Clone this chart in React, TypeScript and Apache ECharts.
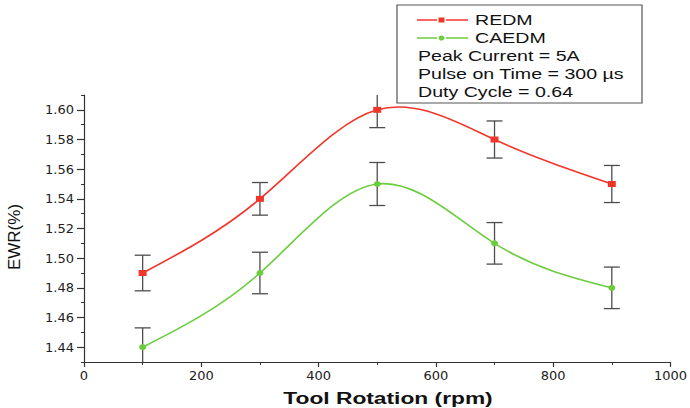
import React, { useEffect, useRef } from 'react';
import * as echarts from 'echarts';

const rotation = [100, 300, 500, 700, 900];
const redm = [1.49, 1.54, 1.6, 1.58, 1.55];
const redmErr = [0.012, 0.011, 0.012, 0.0125, 0.0125];
const caedm = [1.44, 1.49, 1.55, 1.51, 1.48];
const caedmErr = [0.013, 0.014, 0.0145, 0.014, 0.014];
const yMajorTicks = [1.44, 1.46, 1.48, 1.5, 1.52, 1.54, 1.56, 1.58, 1.6];
const yMinorTicks = [1.43, 1.45, 1.47, 1.49, 1.51, 1.53, 1.55, 1.57, 1.59, 1.61];
const xMajorTicks = [0, 200, 400, 600, 800, 1000];
const xMinorTicks = [100, 300, 500, 700, 900];
const seriesNames = ['REDM', 'CAEDM'];
const notes = ['Peak Current = 5A', 'Pulse on Time = 300 \u00b5s', 'Duty Cycle = 0.64'];
const xTitle = 'Tool Rotation (rpm)';
const yTitle = 'EWR(%)';

const FONT = 'Liberation Sans, Arial, sans-serif';
const TICKFONT = 'DejaVu Sans, sans-serif';
const RED = '#f2352b';
const GREEN = '#6acd3c';
const STRETCH = 1.4;

// natural cubic spline slopes (used only to draw the smooth curve through the data points)
function splineSlopes(xs: number[], ys: number[]) {
  const n = xs.length;
  const h = xs.slice(1).map((x, i) => x - xs[i]);
  const a = new Array(n).fill(0);
  const b = new Array(n).fill(1);
  const c = new Array(n).fill(0);
  const d = new Array(n).fill(0);
  for (let i = 1; i < n - 1; i++) {
    a[i] = h[i - 1];
    b[i] = 2 * (h[i - 1] + h[i]);
    c[i] = h[i];
    d[i] = 6 * ((ys[i + 1] - ys[i]) / h[i] - (ys[i] - ys[i - 1]) / h[i - 1]);
  }
  for (let i = 1; i < n; i++) {
    const w = a[i] / b[i - 1];
    b[i] -= w * c[i - 1];
    d[i] -= w * d[i - 1];
  }
  const M = new Array(n).fill(0);
  M[n - 1] = d[n - 1] / b[n - 1];
  for (let i = n - 2; i >= 0; i--) M[i] = (d[i] - c[i] * M[i + 1]) / b[i];
  const s: number[] = [];
  for (let i = 0; i < n - 1; i++) s.push((ys[i + 1] - ys[i]) / h[i] - (h[i] * (2 * M[i] + M[i + 1])) / 6);
  const hl = h[n - 2];
  s.push((ys[n - 1] - ys[n - 2]) / hl + (hl * (M[n - 2] + 2 * M[n - 1])) / 6);
  return s;
}

function curveRenderer(xs: number[], ys: number[], color: string) {
  const s = splineSlopes(xs, ys);
  return (params: any, api: any) => {
    const i = params.dataIndex;
    if (i >= xs.length - 1) return null;
    const h = xs[i + 1] - xs[i];
    const p0 = api.coord([xs[i], ys[i]]);
    const p1 = api.coord([xs[i + 1], ys[i + 1]]);
    const c0 = api.coord([xs[i] + h / 3, ys[i] + (s[i] * h) / 3]);
    const c1 = api.coord([xs[i + 1] - h / 3, ys[i + 1] - (s[i + 1] * h) / 3]);
    return {
      type: 'bezierCurve',
      shape: { x1: p0[0], y1: p0[1], x2: p1[0], y2: p1[1], cpx1: c0[0], cpy1: c0[1], cpx2: c1[0], cpy2: c1[1] },
      style: { stroke: color, lineWidth: 1.6, fill: 'none' },
    };
  };
}

function errData(xs: number[], ys: number[], es: number[]) {
  return xs.map((x, i) => [x, ys[i] - es[i], ys[i] + es[i]]);
}

const renderErr = (params: any, api: any) => {
  const x = api.value(0);
  const lo = api.coord([x, api.value(1)]);
  const hi = api.coord([x, api.value(2)]);
  const w = 8;
  const style = { stroke: '#4d4d4d', lineWidth: 1.3 };
  return {
    type: 'group',
    children: [
      { type: 'line', shape: { x1: lo[0], y1: lo[1], x2: hi[0], y2: hi[1] }, style },
      { type: 'line', shape: { x1: hi[0] - w, y1: hi[1], x2: hi[0] + w, y2: hi[1] }, style },
      { type: 'line', shape: { x1: lo[0] - w, y1: lo[1], x2: lo[0] + w, y2: lo[1] }, style },
    ],
  };
};

export default function App() {
  const ref = useRef<HTMLDivElement>(null);
  useEffect(() => {
    const chart = echarts.init(ref.current!, null, { renderer: 'svg' });
    const axisLine = { lineStyle: { color: '#333', width: 1.2 } };
    const legendRows = [
      { y: 20, color: RED, symbol: 'rect' },
      { y: 38, color: GREEN, symbol: 'circle' },
    ];
    const legendGraphics: any[] = [];
    legendRows.forEach((r, i) => {
      legendGraphics.push(
        { type: 'line', z: 5, shape: { x1: 417, y1: r.y, x2: 437, y2: r.y }, style: { stroke: r.color, lineWidth: 1.5 } },
        { type: 'line', z: 5, shape: { x1: 446, y1: r.y, x2: 468, y2: r.y }, style: { stroke: r.color, lineWidth: 1.5 } },
        r.symbol === 'rect'
          ? { type: 'rect', z: 5, shape: { x: 438.5, y: r.y - 2.5, width: 6, height: 5 }, style: { fill: r.color } }
          : { type: 'ellipse', z: 5, shape: { cx: 441.5, cy: r.y, rx: 3, ry: 2.6 }, style: { fill: r.color } },
        {
          type: 'text',
          z: 5,
          x: 475,
          y: r.y,
          scaleX: STRETCH,
          style: { text: seriesNames[i], fontSize: 14, fill: '#111', fontFamily: FONT, verticalAlign: 'middle' },
        }
      );
    });
    chart.setOption({
      animation: false,
      textStyle: { fontFamily: FONT },
      grid: { left: 84, right: 18, top: 95, bottom: 46 },
      xAxis: [
        {
          type: 'value',
          min: 0,
          max: 1000,
          interval: 200,
          axisLine,
          axisTick: { length: 5, lineStyle: { color: '#333', width: 1.2 }, customValues: xMajorTicks },
          axisLabel: {
            color: '#222',
            fontSize: 13,
            fontFamily: TICKFONT,
            margin: 7,
            customValues: xMajorTicks,
            formatter: (v: number) => String(v),
          },
          splitLine: { show: false },
        },
        {
          type: 'value',
          position: 'bottom',
          min: 0,
          max: 1000,
          axisLine: { show: false },
          axisTick: { length: 3, lineStyle: { color: '#333' }, customValues: xMinorTicks },
          axisLabel: { show: false },
          splitLine: { show: false },
        },
      ],
      yAxis: [
        {
          type: 'value',
          min: 1.43,
          max: 1.61,
          axisLine: { show: true, ...axisLine },
          axisTick: { show: true, length: 7, lineStyle: { color: '#333', width: 1.2 }, customValues: yMajorTicks },
          axisLabel: {
            color: '#222',
            fontSize: 13,
            fontFamily: TICKFONT,
            margin: 10,
            customValues: yMajorTicks,
            formatter: (v: number) => v.toFixed(2),
          },
          splitLine: { show: false },
        },
        {
          type: 'value',
          position: 'left',
          min: 1.43,
          max: 1.61,
          axisLine: { show: false },
          axisTick: { show: true, length: 3, lineStyle: { color: '#333' }, customValues: yMinorTicks },
          axisLabel: { show: false },
          splitLine: { show: false },
        },
      ],
      graphic: [
        {
          type: 'rect',
          z: 4,
          shape: { x: 397, y: 5, width: 245, height: 98 },
          style: { fill: '#fff', stroke: '#555', lineWidth: 1.2 },
        },
        ...legendGraphics,
        ...notes.map((t, i) => ({
          type: 'text',
          x: 418,
          y: 56 + i * 18,
          z: 5,
          scaleX: STRETCH,
          style: { text: t, fontSize: 14, fill: '#111', fontFamily: FONT, verticalAlign: 'middle' },
        })),
        {
          type: 'text',
          x: 388,
          y: 398,
          scaleX: 1.34,
          style: {
            text: xTitle,
            fontSize: 17,
            fontWeight: 'bold',
            fill: '#111',
            fontFamily: FONT,
            align: 'center',
            verticalAlign: 'middle',
          },
        },
        {
          type: 'text',
          x: 14,
          y: 237,
          rotation: Math.PI / 2,
          style: {
            text: yTitle,
            fontSize: 17,
            fill: '#111',
            fontFamily: FONT,
            align: 'center',
            verticalAlign: 'middle',
          },
        },
      ],
      series: [
        {
          type: 'custom',
          name: 'REDM error',
          renderItem: renderErr,
          data: errData(rotation, redm, redmErr),
          encode: { x: 0, y: [1, 2] },
          z: 1,
          clip: true,
        },
        {
          type: 'custom',
          name: 'CAEDM error',
          renderItem: renderErr,
          data: errData(rotation, caedm, caedmErr),
          encode: { x: 0, y: [1, 2] },
          z: 1,
          clip: true,
        },
        {
          type: 'custom',
          name: 'REDM curve',
          renderItem: curveRenderer(rotation, redm, RED),
          data: rotation.map((x, i) => [x, redm[i]]),
          encode: { x: 0, y: 1 },
          z: 2,
          clip: true,
        },
        {
          type: 'custom',
          name: 'CAEDM curve',
          renderItem: curveRenderer(rotation, caedm, GREEN),
          data: rotation.map((x, i) => [x, caedm[i]]),
          encode: { x: 0, y: 1 },
          z: 2,
          clip: true,
        },
        {
          type: 'scatter',
          name: 'REDM',
          data: rotation.map((x, i) => [x, redm[i]]),
          symbol: 'rect',
          symbolSize: [8, 6],
          itemStyle: { color: RED, opacity: 1 },
          z: 3,
        },
        {
          type: 'scatter',
          name: 'CAEDM',
          data: rotation.map((x, i) => [x, caedm[i]]),
          symbol: 'circle',
          symbolSize: [7, 6],
          itemStyle: { color: GREEN, opacity: 1 },
          z: 3,
        },
      ],
    });
    return () => chart.dispose();
  }, []);
  return <div ref={ref} style={{ width: 690, height: 408, position: 'absolute', left: 0, top: 0 }} />;
}
